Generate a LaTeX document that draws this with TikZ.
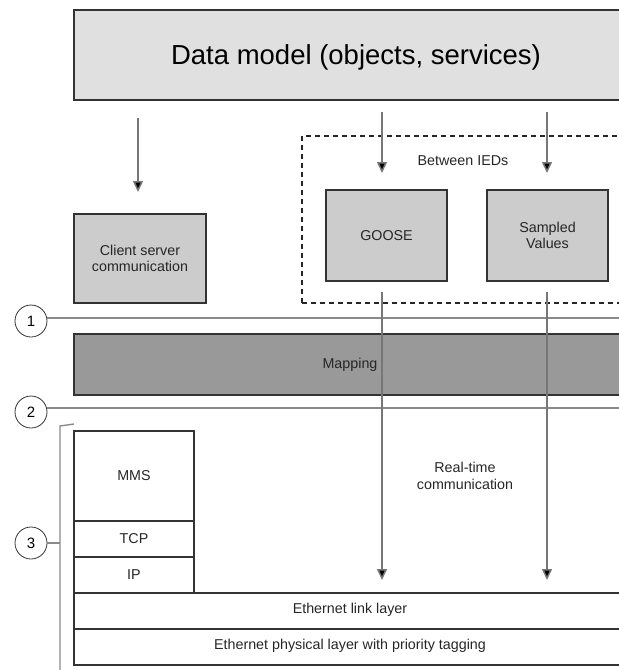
\documentclass[tikz,border=0pt]{standalone}
\usepackage{fontspec}
\setmainfont{Liberation Sans}
\usetikzlibrary{arrows.meta}
\definecolor{boxline}{HTML}{333333}
\definecolor{lightfill}{HTML}{E0E0E0}
\definecolor{midfill}{HTML}{CCCCCC}
\definecolor{darkfill}{HTML}{999999}
\definecolor{sepline}{HTML}{8A8A8A}
\definecolor{arrline}{HTML}{777777}
\tikzset{
  layerbox/.style={draw=boxline, line width=1.6pt, inner sep=0pt},
  smalltxt/.style={font=\fontsize{14.3}{16.5}\selectfont, align=center, text=black!85},
  numcirc/.style={draw=black!80, line width=0.8pt, circle, minimum size=32pt, inner sep=0pt, font=\fontsize{15}{17}\selectfont},
  flow/.style={draw=arrline, line width=1.5pt, -{Triangle[length=11pt,width=10pt,fill=black]}},
  seprule/.style={draw=sepline, line width=2.2pt},
}
\begin{document}
\begin{tikzpicture}[x=1pt,y=-1pt]
\useasboundingbox (0,0) rectangle (619,670);
% data model
\draw[layerbox, fill=lightfill] (74,10) rectangle (660,100);
\node[font=\fontsize{27.5}{31}\selectfont] (dm) at (356,57) {Data model (objects, services)};
% dashed box
\draw[line width=1.4pt, dash pattern=on 5pt off 4pt, draw=black!85] (302,303) -- (302,136) -- (660,136);
\draw[line width=1.4pt, dash pattern=on 5pt off 4pt, draw=black!85] (302,303) -- (660,303);
\node[smalltxt] (ied) at (463,161) {Between IEDs};
% client server
\node[layerbox, fill=midfill, minimum width=132pt, minimum height=89pt, smalltxt] (cs) at (140,258.5) {Client server\\communication};
\node[layerbox, fill=midfill, minimum width=121pt, minimum height=91pt, smalltxt] (goose) at (386.5,235.5) {GOOSE};
\node[layerbox, fill=midfill, minimum width=121pt, minimum height=91pt, smalltxt] (sv) at (547.5,235.5) {Sampled\\Values};
\coordinate (a1s) at (138,118);
\coordinate (a1e) at (138,192);
\coordinate (a2s) at (382,112);
\coordinate (a2e) at (382,173);
\coordinate (a3s) at (547,112);
\coordinate (a3e) at (547,173);
\draw[flow] (a1s) -- (a1e);
\draw[flow] (a2s) -- (a2e);
\draw[flow] (a3s) -- (a3e);
% circles and separators
\node[numcirc] (c1) at (31,321) {1};
\node[numcirc] (c2) at (31,412) {2};
\node[numcirc] (c3) at (31,543) {3};
\coordinate (s1) at (625,318);
\coordinate (s2) at (625,408);
\draw[seprule] (c1.east |- s1) -- (s1);
\draw[seprule] (c2.east |- s2) -- (s2);
% mapping
\draw[layerbox, fill=darkfill] (74,334) rectangle (660,395);
\node[smalltxt] (map) at (350,365) {Mapping};
% bracket
\coordinate (bt) at (60,426);
\coordinate (bb) at (60,675);
\coordinate (btk) at (74,424);
\draw[draw=sepline, line width=1.4pt] (btk) -- (bt) -- (bb);
\draw[draw=sepline, line width=1.4pt] (c3.east) -- (c3.east -| bt);
% stack
\node[layerbox, minimum width=120pt, minimum height=90pt, smalltxt] (mms) at (134,476) {MMS};
\node[layerbox, minimum width=120pt, minimum height=36pt, smalltxt] (tcp) at (134,539) {TCP};
\node[layerbox, minimum width=120pt, minimum height=36pt, smalltxt] (ip) at (134,575) {IP};
\draw[layerbox] (74,593) rectangle (660,629);
\draw[layerbox] (74,629) rectangle (660,665);
\node[smalltxt] (ell) at (350,610) {Ethernet link layer};
\node[smalltxt] (epl) at (350,646) {Ethernet physical layer with priority tagging};
\node[smalltxt] (rt) at (465,476) {Real-time\\communication};
% down arrows
\coordinate (g1) at (382,580);
\coordinate (g2) at (547,580);
\draw[flow] (goose.south -| g1) ++(0,10) -- (g1);
\draw[flow] (sv.south -| g2) ++(0,10) -- (g2);
\end{tikzpicture}
\end{document}
